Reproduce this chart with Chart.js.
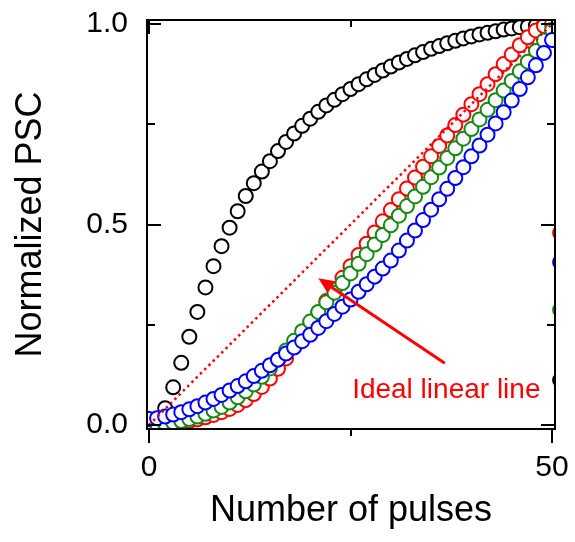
<!DOCTYPE html>
<html>
<head>
<meta charset="utf-8">
<title>Normalized PSC</title>
<script src="https://cdn.jsdelivr.net/npm/chart.js@4.4.1/dist/chart.umd.min.js"></script>
<style>
  html, body { margin: 0; padding: 0; background: #fff; }
  #wrap { width: 575px; height: 542px; position: relative; }
</style>
</head>
<body>
<div id="wrap"><canvas id="myChart"></canvas></div>
<script>
// pulse number along x
const PULSES = [0, 1, 2, 3, 4, 5, 6, 7, 8, 9, 10, 11, 12, 13, 14, 15, 16, 17, 18, 19, 20,
  21, 22, 23, 24, 25, 26, 27, 28, 29, 30, 31, 32, 33, 34, 35, 36, 37, 38, 39, 40,
  41, 42, 43, 44, 45, 46, 47, 48, 49, 50];

// normalized PSC per pulse
const BLACK = [0.000, 0.008, 0.042, 0.094, 0.155, 0.220, 0.282, 0.343, 0.396, 0.446, 0.492,
  0.533, 0.571, 0.603, 0.632, 0.658, 0.683, 0.706, 0.727, 0.746, 0.764,
  0.781, 0.797, 0.811, 0.825, 0.838, 0.850, 0.862, 0.873, 0.884, 0.894,
  0.904, 0.913, 0.922, 0.930, 0.938, 0.945, 0.952, 0.958, 0.964, 0.969,
  0.974, 0.978, 0.982, 0.986, 0.989, 0.992, 0.994, 0.996, 0.998, 1.000];
const RED = [0.000, 0.000, 0.002, 0.004, 0.007, 0.010, 0.014, 0.019, 0.025, 0.032, 0.040,
  0.050, 0.062, 0.077, 0.095, 0.116, 0.140, 0.166, 0.194, 0.222, 0.251,
  0.280, 0.309, 0.338, 0.367, 0.396, 0.424, 0.452, 0.480, 0.508, 0.536,
  0.563, 0.590, 0.617, 0.644, 0.670, 0.696, 0.722, 0.748, 0.774, 0.800,
  0.825, 0.850, 0.875, 0.900, 0.924, 0.947, 0.967, 0.984, 0.995, 1.000];
const GREEN = [0.000, 0.001, 0.003, 0.006, 0.010, 0.015, 0.021, 0.028, 0.036, 0.045, 0.056,
  0.069, 0.084, 0.101, 0.120, 0.141, 0.163, 0.186, 0.210, 0.234, 0.258,
  0.282, 0.306, 0.330, 0.354, 0.378, 0.402, 0.426, 0.450, 0.474, 0.498,
  0.522, 0.546, 0.570, 0.594, 0.618, 0.642, 0.666, 0.690, 0.714, 0.738,
  0.762, 0.786, 0.810, 0.834, 0.858, 0.882, 0.906, 0.933, 0.959, 0.985];
const BLUE = [0.015, 0.017, 0.021, 0.026, 0.032, 0.039, 0.047, 0.056, 0.065, 0.075, 0.086,
  0.097, 0.109, 0.122, 0.135, 0.149, 0.163, 0.178, 0.193, 0.209, 0.225,
  0.242, 0.259, 0.277, 0.295, 0.313, 0.332, 0.351, 0.370, 0.390, 0.410,
  0.435, 0.460, 0.485, 0.511, 0.537, 0.563, 0.589, 0.616, 0.643, 0.670,
  0.697, 0.724, 0.752, 0.780, 0.809, 0.838, 0.867, 0.897, 0.928, 0.960];

// first pulse of the following train, cut off by the right edge
const NEXT_PULSE = 51;
const NEXT_BLACK = 0.112;
const NEXT_RED = 0.479;
const NEXT_GREEN = 0.287;
const NEXT_BLUE = 0.406;

// ideal linear line
const IDEAL_X = [0, 50];
const IDEAL_Y = [0, 1];

// ticks
const X_TICKS = [0, 50];
const X_MINOR = [25];
const Y_TICKS = [0, 0.5, 1];
const Y_MINOR = [0.25, 0.75];

// annotation (data units)
const LABEL_TEXT = "Ideal linear line";
const LABEL_AT = [25.2, 0.067];
const ARROW_FROM = [36.7, 0.154];
const ARROW_TO = [21.0, 0.366];

const FONT = "'Liberation Sans', Arial, Helvetica, sans-serif";
const RED_C = "#ff0000";
const GREEN_C = "#138a13";
const BLUE_C = "#0000ff";

function $(id) {
  return document.getElementById(id);
}

function toPoints(xs, ys, nextY) {
  let pts = xs.map((x, i) => ({ x: x, y: ys[i] }));
  if (nextY !== undefined)
    pts.push({ x: NEXT_PULSE, y: nextY });
  return pts;
}

function circles(label, ys, nextY, color) {
  return {
    label: label,
    data: toPoints(PULSES, ys, nextY),
    showLine: false,
    pointStyle: "circle",
    pointRadius: 7,
    pointBorderWidth: 2,
    pointBorderColor: color,
    pointBackgroundColor: "#fff",
    pointHoverRadius: 7
  };
}

// keep the plot box where it is, labels may hang over the edges
function noOverhang(s) {
  s.paddingLeft = 0;
  s.paddingRight = 0;
  s.paddingTop = 0;
  s.paddingBottom = 0;
}

// box around the plot plus the tick marks
const frame = {
  id: "frame",
  afterDatasetsDraw(chart) {
    const { ctx, chartArea: a, scales: { x, y } } = chart;
    ctx.save();
    ctx.strokeStyle = "#000";
    ctx.lineWidth = 2;
    ctx.strokeRect(a.left, a.top, a.right - a.left, a.bottom - a.top);
    ctx.beginPath();
    const ytick = (v, len) => {
      const py = Math.round(y.getPixelForValue(v));
      ctx.moveTo(a.left, py); ctx.lineTo(a.left + len, py);
      ctx.moveTo(a.right, py); ctx.lineTo(a.right - len, py);
    };
    const xtick = (v, len) => {
      const px = Math.round(x.getPixelForValue(v));
      ctx.moveTo(px, a.top); ctx.lineTo(px, a.top + len);
      ctx.moveTo(px, a.bottom); ctx.lineTo(px, a.bottom + len);
    };
    Y_TICKS.forEach(v => ytick(v, 14));
    Y_MINOR.forEach(v => ytick(v, 8));
    X_TICKS.forEach(v => xtick(v, 14));
    X_MINOR.forEach(v => xtick(v, 7));
    ctx.stroke();
    ctx.restore();
  }
};

// red arrow and its label
const note = {
  id: "note",
  afterDraw(chart) {
    const { ctx, scales: { x, y } } = chart;
    const x0 = x.getPixelForValue(ARROW_FROM[0]), y0 = y.getPixelForValue(ARROW_FROM[1]);
    const x1 = x.getPixelForValue(ARROW_TO[0]), y1 = y.getPixelForValue(ARROW_TO[1]);
    const ang = Math.atan2(y1 - y0, x1 - x0);
    const head = 16, half = 7;
    const bx = x1 - head * Math.cos(ang), by = y1 - head * Math.sin(ang);
    ctx.save();
    ctx.strokeStyle = RED_C;
    ctx.fillStyle = RED_C;
    ctx.lineWidth = 3;
    ctx.beginPath();
    ctx.moveTo(x0, y0);
    ctx.lineTo(bx, by);
    ctx.stroke();
    ctx.beginPath();
    ctx.moveTo(x1, y1);
    ctx.lineTo(bx + half * Math.sin(ang), by - half * Math.cos(ang));
    ctx.lineTo(bx - half * Math.sin(ang), by + half * Math.cos(ang));
    ctx.closePath();
    ctx.fill();
    ctx.font = "28px " + FONT;
    ctx.textAlign = "left";
    ctx.textBaseline = "alphabetic";
    ctx.fillText(LABEL_TEXT, x.getPixelForValue(LABEL_AT[0]), y.getPixelForValue(LABEL_AT[1]));
    ctx.restore();
  }
};

let myChart = null;

window.onload = function() {
  const ctx = $("myChart").getContext("2d");
  myChart = new Chart(ctx, {
    type: "scatter",
    data: {
      datasets: [
        {
          label: "ideal",
          data: toPoints(IDEAL_X, IDEAL_Y),
          showLine: true,
          borderColor: RED_C,
          borderWidth: 2.5,
          borderDash: [2.5, 3.5],
          pointRadius: 0,
          pointHoverRadius: 0
        },
        circles("blue", BLUE, NEXT_BLUE, BLUE_C),
        circles("green", GREEN, NEXT_GREEN, GREEN_C),
        circles("red", RED, NEXT_RED, RED_C),
        circles("black", BLACK, NEXT_BLACK, "#000")
      ]
    },
    options: {
      responsive: true,
      maintainAspectRatio: false,
      animation: false,
      devicePixelRatio: 1,
      events: [],
      layout: { padding: { top: 20, right: 20, left: 0, bottom: 0 } },
      plugins: {
        legend: { display: false },
        tooltip: { enabled: false }
      },
      scales: {
        x: {
          type: "linear",
          min: -0.25,
          max: 50.37,
          afterBuildTicks: s => { s.ticks = X_TICKS.map(v => ({ value: v })); },
          afterFit: s => { s.height = 113; noOverhang(s); },
          grid: { display: false, drawTicks: false },
          border: { display: false },
          ticks: {
            color: "#000",
            padding: 21,
            maxRotation: 0,
            font: { family: FONT, size: 30 },
            callback: v => String(v)
          },
          title: {
            display: true,
            text: "Number of pulses",
            color: "#000",
            font: { family: FONT, size: 36 },
            padding: { top: 0, bottom: 9 }
          }
        },
        y: {
          type: "linear",
          min: -0.01,
          max: 1.01,
          afterBuildTicks: s => { s.ticks = Y_TICKS.map(v => ({ value: v })); },
          afterFit: s => { s.width = 147; noOverhang(s); },
          grid: { display: false, drawTicks: false },
          border: { display: false },
          ticks: {
            color: "#000",
            padding: 19,
            font: { family: FONT, size: 30 },
            callback: v => v.toFixed(1)
          },
          title: {
            display: true,
            text: "Normalized PSC",
            color: "#000",
            font: { family: FONT, size: 36 },
            padding: { top: 9, bottom: 0 }
          }
        }
      }
    },
    plugins: [frame, note]
  });
};
</script>
</body>
</html>
